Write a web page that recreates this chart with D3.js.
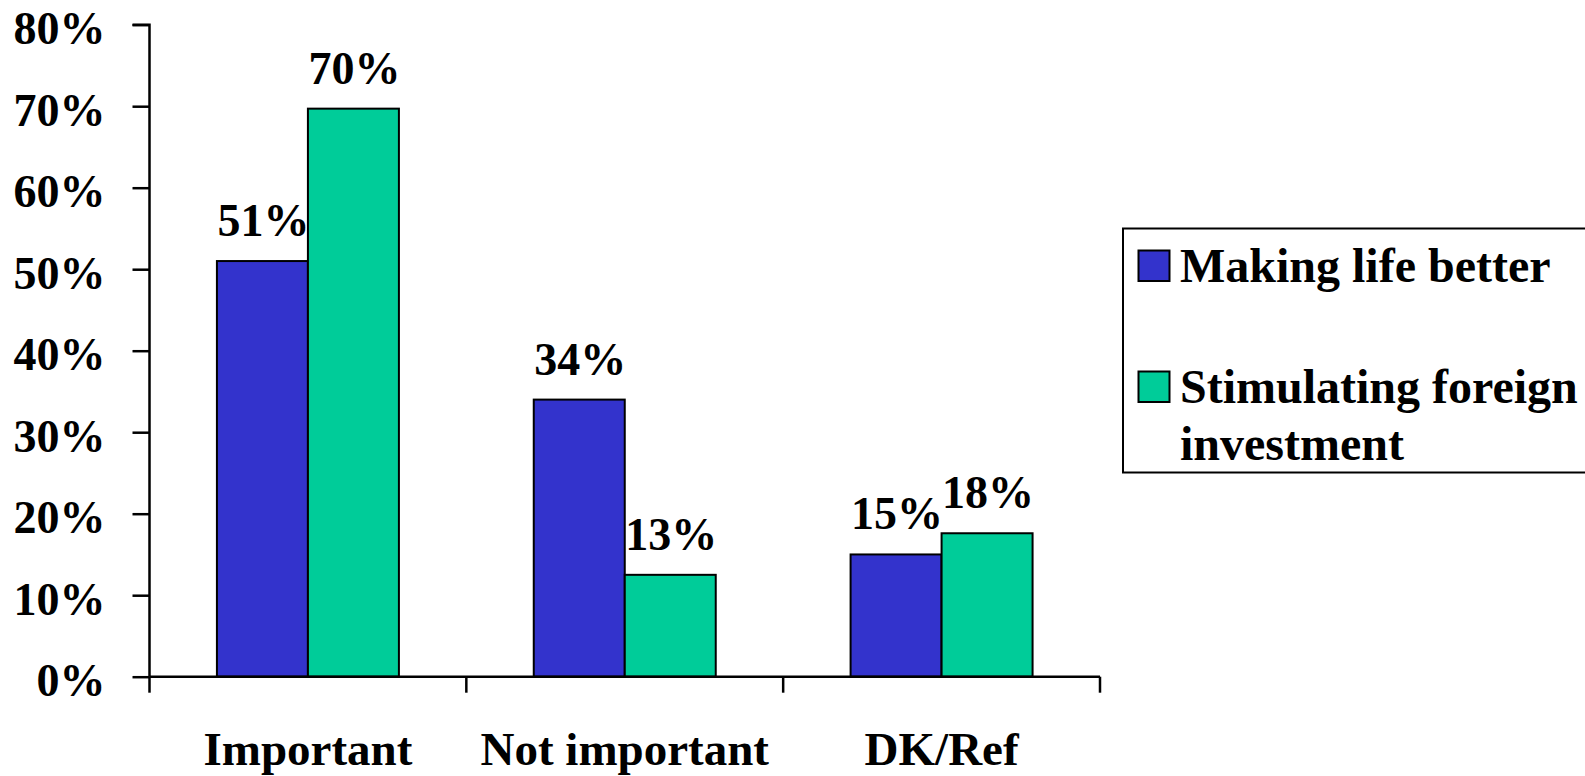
<!DOCTYPE html>
<html><head><meta charset="utf-8">
<script src="https://cdn.jsdelivr.net/npm/d3@7"></script>
<style>
html,body{margin:0;padding:0;background:#fff;overflow:hidden}
text{font-family:"Liberation Serif","Times New Roman",serif;font-weight:bold;fill:#000}
</style></head>
<body>
<svg id="chart" width="1585" height="776"></svg>
<script>
const categories = ["Important", "Not important", "DK/Ref"];
const seriesNames = ["Making life better", "Stimulating foreign investment"];
const makingLifeBetter = [51, 34, 15];
const stimulatingForeignInvestment = [69.7, 12.5, 17.6];
const yTicks = [0, 10, 20, 30, 40, 50, 60, 70, 80];
const colors = ["#3333CC", "#00CC99"];

const seriesValues = [makingLifeBetter, stimulatingForeignInvestment];
const svg = d3.select("#chart");

const x0 = 149.5, x1 = 1100, yBase = 676.7, yTop = 24.7;
const x = d3.scaleBand().domain(categories).range([x0, x1]).padding(0);
const bw = x.bandwidth();
const xs = d3.scaleBand().domain(seriesNames).range([bw * 0.2128, bw * 0.7872]).padding(0);
const y = d3.scaleLinear().domain([0, 80]).range([yBase, yTop]);

// Y axis
const yAxis = d3.axisLeft(y).tickValues(yTicks).tickFormat(d => d + "%").tickSize(17).tickPadding(10);
const gy = svg.append("g").attr("transform", `translate(${x0},0)`).call(yAxis);
gy.select(".domain").attr("stroke", "#000").attr("stroke-width", 2.5).attr("d", `M-17,${yTop}H0V${yBase}`);
gy.selectAll(".tick line").attr("stroke", "#000").attr("stroke-width", 2.5);
gy.selectAll(".tick text").attr("font-size", 46).attr("dy", null)
  .attr("y", 19).attr("x", -44).style("font-family", '"Liberation Serif","Times New Roman",serif').style("font-weight", "bold");

// Bars
const groups = svg.append("g").selectAll("g").data(categories).join("g")
  .attr("transform", d => `translate(${x(d)},0)`);
seriesNames.forEach((s, si) => {
  groups.append("rect")
    .attr("x", xs(s)).attr("width", xs.bandwidth())
    .attr("y", (d, i) => y(seriesValues[si][i]))
    .attr("height", (d, i) => yBase - y(seriesValues[si][i]))
    .attr("fill", colors[si]).attr("stroke", "#000").attr("stroke-width", 2);
  groups.append("text")
    .attr("x", xs(s) + xs.bandwidth() / 2 + 1)
    .attr("y", (d, i) => y(seriesValues[si][i]) - 25)
    .attr("text-anchor", "middle").attr("font-size", 46)
    .text((d, i) => Math.round(seriesValues[si][i]) + "%");
});

// X axis
const xAxis = d3.axisBottom(x).tickSize(0).tickFormat(d => d);
const gx = svg.append("g").attr("transform", `translate(0,${yBase})`).call(xAxis);
gx.select(".domain").attr("stroke", "#000").attr("stroke-width", 2.5).attr("d", `M${x0},0H${x1}`);
gx.selectAll(".tick text").attr("font-size", 47).attr("dy", null).attr("y", 88)
  .style("font-family", '"Liberation Serif","Times New Roman",serif').style("font-weight", "bold");
const bounds = categories.map(c => x(c)).concat([x1]);
gx.selectAll(".sep").data(bounds).join("line").attr("class", "sep")
  .attr("x1", d => d).attr("x2", d => d).attr("y1", 0).attr("y2", 16)
  .attr("stroke", "#000").attr("stroke-width", 2.5);

// Legend
const lg = svg.append("g");
lg.append("rect").attr("x", 1123).attr("y", 228.5).attr("width", 480).attr("height", 244)
  .attr("fill", "#fff").attr("stroke", "#000").attr("stroke-width", 2);
const legendLines = [["Making life better"], ["Stimulating foreign", "investment"]];
const legendY = [282, 403];
seriesNames.forEach((s, i) => {
  lg.append("rect").attr("x", 1138.5).attr("y", legendY[i] - 31.5).attr("width", 31).attr("height", 30.5)
    .attr("fill", colors[i]).attr("stroke", "#000").attr("stroke-width", 2);
  const t = lg.append("text").attr("x", 1180).attr("y", legendY[i]).attr("font-size", 48);
  legendLines[i].forEach((ln, j) => {
    t.append("tspan").attr("x", 1180).attr("y", legendY[i] + j * 57).text(ln);
  });
});
</script>
</body></html>
